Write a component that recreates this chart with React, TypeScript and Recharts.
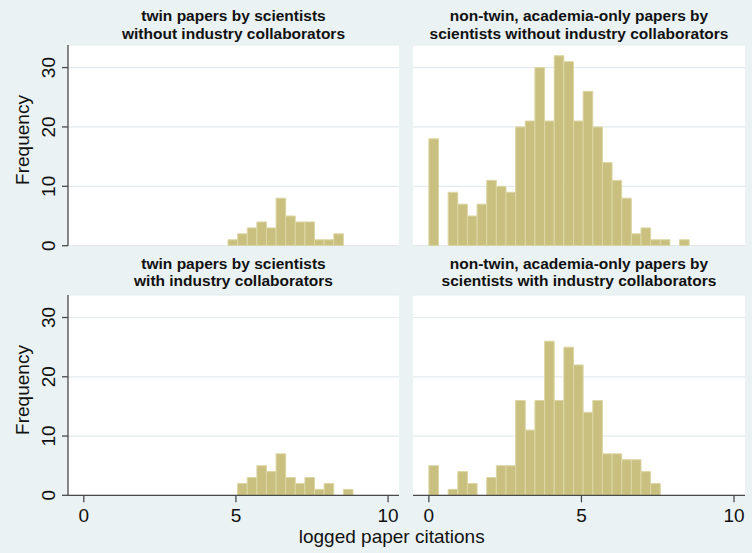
import React from 'react';
import { BarChart, Bar, XAxis, YAxis, CartesianGrid } from 'recharts';

// ---- data ----
const binStart = 0;
const binWidth = 0.316;

// counts per bin (bin i covers [binStart + i*binWidth, binStart + (i+1)*binWidth))
const twinNoIndustry = [0, 0, 0, 0, 0, 0, 0, 0, 0, 0, 0, 0, 0, 0, 0, 1, 2, 3, 4, 3, 8, 5, 4, 4, 1, 1, 2, 0];
const nonTwinNoIndustry = [18, 0, 9, 7, 5, 7, 11, 10, 9, 20, 21, 30, 21, 32, 31, 21, 26, 20, 14, 11, 8, 2, 3, 1, 1, 0, 1, 0];
const twinIndustry = [0, 0, 0, 0, 0, 0, 0, 0, 0, 0, 0, 0, 0, 0, 0, 0, 2, 3, 5, 4, 7, 3, 2, 3, 1, 2, 0, 1];
const nonTwinIndustry = [5, 0, 1, 4, 2, 0, 3, 5, 5, 16, 11, 16, 26, 16, 25, 22, 14, 16, 7, 7, 6, 6, 4, 2, 0, 0, 0, 0];

const titleTL = ['twin papers by scientists', 'without industry collaborators'];
const titleTR = ['non-twin, academia-only papers by', 'scientists without industry collaborators'];
const titleBL = ['twin papers by scientists', 'with industry collaborators'];
const titleBR = ['non-twin, academia-only papers by', 'scientists with industry collaborators'];

const xTicks = [0, 5, 10];
const yTicks = [0, 10, 20, 30];
const xAxisTitle = 'logged paper citations';
const yAxisTitle = 'Frequency';

// ---- style ----
const X_DOMAIN: [number, number] = [-0.52, 10.36];
const Y_DOMAIN: [number, number] = [0, 33.8];
const FONT = '"Liberation Sans", Arial, sans-serif';
const BG = '#eaf2f3';
const GRID = '#e3ebee';
const AXIS = '#4a4a4a';
const BAR_FILL = '#c9c080';
const BAR_STROKE = '#dcd6a4';
const TICK_FS = 19;

const toRows = (counts: number[]) =>
  counts.map((c, i) => ({ x: binStart + (i + 0.5) * binWidth, count: c }));

const YTick = (props: any) => {
  const { x, y, payload } = props;
  return (
    <text
      x={x}
      y={y}
      transform={`rotate(-90 ${x} ${y})`}
      textAnchor="middle"
      fontFamily={FONT}
      fontSize={TICK_FS}
      fill="#111"
    >
      {payload.value}
    </text>
  );
};

const XTick = (props: any) => {
  const { x, y, payload } = props;
  return (
    <text x={x} y={y + TICK_FS * 0.716 + 6} textAnchor="middle" fontFamily={FONT} fontSize={TICK_FS} fill="#111">
      {payload.value}
    </text>
  );
};

type PanelProps = {
  left: number;
  top: number;
  width: number;
  height: number;
  counts: number[];
  showY: boolean;
  showX: boolean;
  margin: { top: number; right: number; bottom: number; left: number };
};

const Panel = ({ left, top, width, height, counts, showY, showX, margin }: PanelProps) => {
  const yAxisWidth = showY ? 60 : 0;
  const xAxisHeight = showX ? 30 : 0;
  const plotW = width - margin.left - margin.right - yAxisWidth;
  const binPx = (binWidth * plotW) / (X_DOMAIN[1] - X_DOMAIN[0]);
  return (
    <div style={{ position: 'absolute', left, top, width, height }}>
      <BarChart width={width} height={height} data={toRows(counts)} margin={margin} barGap={0}>
        <CartesianGrid vertical={false} horizontal stroke={GRID} strokeWidth={1.2} fill="#ffffff" fillOpacity={1} />
        <XAxis
          dataKey="x"
          type="number"
          domain={X_DOMAIN}
          allowDataOverflow
          ticks={xTicks}
          hide={!showX}
          height={xAxisHeight}
          axisLine={{ stroke: AXIS, strokeWidth: 1.3 }}
          tickLine={{ stroke: AXIS, strokeWidth: 1.3 }}
          tickSize={7}
          tickMargin={0}
          tick={<XTick />}
          interval={0}
        />
        <YAxis
          type="number"
          domain={Y_DOMAIN}
          allowDataOverflow
          ticks={yTicks}
          hide={!showY}
          width={yAxisWidth}
          axisLine={{ stroke: AXIS, strokeWidth: 1.3 }}
          tickLine={{ stroke: AXIS, strokeWidth: 1.3 }}
          tickSize={6}
          tickMargin={6.5}
          tick={<YTick />}
          interval={0}
        />
        <Bar
          dataKey="count"
          fill={BAR_FILL}
          stroke={BAR_STROKE}
          strokeWidth={1}
          barSize={binPx * 0.999}
          isAnimationActive={false}
        />
      </BarChart>
    </div>
  );
};

const TitleLines = ({ x, y, lines }: { x: number; y: number; lines: string[] }) => (
  <>
    {lines.map((l, i) => (
      <text
        key={i}
        x={x}
        y={y + i * 17.6}
        textAnchor="middle"
        fontFamily={FONT}
        fontWeight="bold"
        fontSize={15.5}
        fill="#111"
      >
        {l}
      </text>
    ))}
  </>
);

export default function App() {
  return (
    <div
      style={{
        position: 'absolute',
        left: 0,
        top: 0,
        width: 752,
        height: 553,
        background: BG,
        overflow: 'hidden',
      }}
    >
      <Panel
        left={0}
        top={0}
        width={405}
        height={260}
        counts={twinNoIndustry}
        showY
        showX={false}
        margin={{ top: 45, right: 6, bottom: 14.3, left: 8 }}
      />
      <Panel
        left={405}
        top={0}
        width={347}
        height={260}
        counts={nonTwinNoIndustry}
        showY={false}
        showX={false}
        margin={{ top: 45, right: 7, bottom: 14.3, left: 8 }}
      />
      <Panel
        left={0}
        top={260}
        width={405}
        height={293}
        counts={twinIndustry}
        showY
        showX
        margin={{ top: 35, right: 6, bottom: 27.7, left: 8 }}
      />
      <Panel
        left={405}
        top={260}
        width={347}
        height={293}
        counts={nonTwinIndustry}
        showY={false}
        showX
        margin={{ top: 35, right: 7, bottom: 27.7, left: 8 }}
      />
      <svg
        width={752}
        height={553}
        style={{ position: 'absolute', left: 0, top: 0, pointerEvents: 'none' }}
      >
        <TitleLines x={233.5} y={21} lines={titleTL} />
        <TitleLines x={579} y={21} lines={titleTR} />
        <TitleLines x={233.5} y={268.5} lines={titleBL} />
        <TitleLines x={579} y={268.5} lines={titleBR} />
        <text
          x={28.5}
          y={140}
          transform="rotate(-90 28.5 140)"
          textAnchor="middle"
          fontFamily={FONT}
          fontSize={19}
          fill="#111"
        >
          {yAxisTitle}
        </text>
        <text
          x={28.5}
          y={390}
          transform="rotate(-90 28.5 390)"
          textAnchor="middle"
          fontFamily={FONT}
          fontSize={19}
          fill="#111"
        >
          {yAxisTitle}
        </text>
        <text x={391.7} y={543} textAnchor="middle" fontFamily={FONT} fontSize={19} fill="#111">
          {xAxisTitle}
        </text>
      </svg>
    </div>
  );
}
